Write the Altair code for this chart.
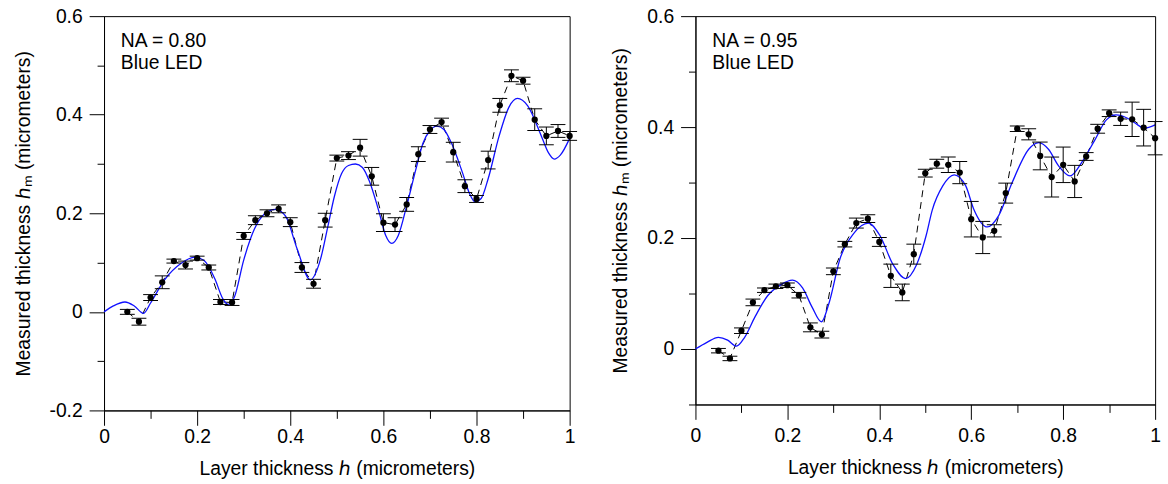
import altair as alt
import pandas as pd

FONT = "Liberation Sans"
FS = 19.5

# Layer thickness h at which each measurement was taken (micrometers)
h_meas = [0.050, 0.075, 0.100, 0.125, 0.150, 0.175, 0.200, 0.225, 0.250, 0.275,
          0.300, 0.325, 0.350, 0.375, 0.400, 0.425, 0.450, 0.475, 0.500, 0.525,
          0.550, 0.575, 0.600, 0.625, 0.650, 0.675, 0.700, 0.725, 0.750, 0.775,
          0.800, 0.825, 0.850, 0.875, 0.900, 0.925, 0.950, 0.975, 1.000]

# NA = 0.80: measured thickness and its uncertainty
hm_080 = [0.000, -0.020, 0.029, 0.060, 0.103, 0.095, 0.109, 0.090, 0.020, 0.019,
          0.154, 0.186, 0.200, 0.209, 0.182, 0.090, 0.057, 0.186, 0.312, 0.317,
          0.333, 0.275, 0.181, 0.177, 0.218, 0.320, 0.370, 0.385, 0.324, 0.255,
          0.229, 0.308, 0.419, 0.479, 0.469, 0.390, 0.357, 0.367, 0.357]
err_080 = [0.005, 0.007, 0.006, 0.013, 0.004, 0.008, 0.004, 0.005, 0.005, 0.006,
           0.007, 0.009, 0.007, 0.008, 0.009, 0.010, 0.009, 0.014, 0.006, 0.008,
           0.017, 0.018, 0.018, 0.014, 0.014, 0.015, 0.008, 0.008, 0.020, 0.013,
           0.007, 0.018, 0.014, 0.012, 0.007, 0.022, 0.018, 0.013, 0.009]

# NA = 0.95: measured thickness and its uncertainty
hm_095 = [-0.003, -0.017, 0.033, 0.084, 0.106, 0.113, 0.115, 0.097, 0.039, 0.026,
          0.140, 0.189, 0.227, 0.235, 0.193, 0.132, 0.102, 0.171, 0.317, 0.334,
          0.332, 0.318, 0.234, 0.201, 0.213, 0.281, 0.397, 0.387, 0.348, 0.310,
          0.332, 0.302, 0.347, 0.397, 0.425, 0.415, 0.414, 0.399, 0.380]
err_095 = [0.004, 0.004, 0.005, 0.006, 0.004, 0.004, 0.004, 0.005, 0.008, 0.006,
           0.006, 0.005, 0.009, 0.007, 0.008, 0.021, 0.015, 0.018, 0.007, 0.008,
           0.014, 0.020, 0.032, 0.029, 0.011, 0.018, 0.005, 0.010, 0.025, 0.036,
           0.032, 0.029, 0.007, 0.008, 0.006, 0.012, 0.031, 0.033, 0.030]

# Simulated response curves (h, h_m)
sim_h_080 = [0.000, 0.020, 0.045, 0.065, 0.085, 0.100, 0.130, 0.165, 0.195, 0.215,
             0.238, 0.255, 0.267, 0.280, 0.300, 0.323, 0.344, 0.368, 0.390, 0.415,
             0.443, 0.465, 0.480, 0.495, 0.510, 0.525, 0.540, 0.555, 0.570, 0.590,
             0.605, 0.618, 0.632, 0.650, 0.670, 0.685, 0.700, 0.715, 0.730, 0.745,
             0.770, 0.785, 0.797, 0.810, 0.825, 0.848, 0.870, 0.888, 0.910, 0.940,
             0.955, 0.967, 0.980, 1.000]
sim_v_080 = [0.000, 0.012, 0.020, 0.012, -0.003, 0.018, 0.065, 0.098, 0.111, 0.104,
             0.067, 0.027, 0.015, 0.030, 0.105, 0.168, 0.198, 0.208, 0.194, 0.127,
             0.065, 0.107, 0.170, 0.235, 0.280, 0.297, 0.300, 0.293, 0.265, 0.205,
             0.155, 0.139, 0.155, 0.215, 0.290, 0.342, 0.368, 0.377, 0.370, 0.345,
             0.282, 0.240, 0.223, 0.230, 0.270, 0.355, 0.416, 0.433, 0.418, 0.355,
             0.322, 0.310, 0.318, 0.352]

sim_h_095 = [0.000, 0.025, 0.050, 0.070, 0.089, 0.107, 0.129, 0.157, 0.186, 0.211,
             0.233, 0.254, 0.274, 0.290, 0.315, 0.344, 0.376, 0.401, 0.430, 0.457,
             0.481, 0.502, 0.515, 0.538, 0.563, 0.588, 0.605, 0.635, 0.660, 0.689,
             0.725, 0.747, 0.768, 0.790, 0.815, 0.840, 0.869, 0.894, 0.915, 0.940,
             0.962, 0.976, 1.000]
sim_v_095 = [0.000, 0.012, 0.021, 0.016, 0.005, 0.021, 0.057, 0.096, 0.116, 0.124,
             0.110, 0.075, 0.049, 0.081, 0.164, 0.208, 0.227, 0.205, 0.152, 0.127,
             0.152, 0.205, 0.250, 0.294, 0.314, 0.294, 0.253, 0.220, 0.241, 0.300,
             0.360, 0.372, 0.360, 0.330, 0.312, 0.336, 0.377, 0.413, 0.422, 0.416,
             0.404, 0.398, 0.404]

x_major = [0, 0.2, 0.4, 0.6, 0.8, 1.0]
x_minor = [0.1, 0.3, 0.5, 0.7, 0.9]

X_TITLE = "Layer thickness \u210e (micrometers)"
Y_TITLE = "Measured thickness \u210e\u2098 (micrometers)"


def panel(values, errors, sim_h, sim_v, y_domain, y_major, y_minor, note,
          width, height, x_label_pad):
    meas = pd.DataFrame({"h": h_meas, "hm": values, "err": errors})
    meas["lo"] = meas["hm"] - meas["err"]
    meas["hi"] = meas["hm"] + meas["err"]
    sim = pd.DataFrame({"h": sim_h, "hm": sim_v})

    xs = alt.Scale(domain=[0, 1], nice=False, zero=False)
    ys = alt.Scale(domain=y_domain, nice=False, zero=False)

    x_axis = alt.Axis(values=x_major, tickSize=15, labelPadding=x_label_pad,
                      title=X_TITLE, titlePadding=14, labelFlush=False,
                      labelExpr="datum.value == 0 ? '0' : datum.value == 1 ? '1' : format(datum.value, '.1f')")
    y_axis = alt.Axis(values=y_major, tickSize=15, labelPadding=7,
                      title=Y_TITLE, titlePadding=16,
                      labelExpr="datum.value == 0 ? '0' : (datum.value < 0 ? '-' : '') + format(abs(datum.value), '.1f')")

    def X(field):
        return alt.X(field, type="quantitative", scale=xs, axis=x_axis)

    def Y(field):
        return alt.Y(field, type="quantitative", scale=ys, axis=y_axis)

    base = alt.Chart(meas)
    dashed = base.mark_line(color="black", strokeWidth=1, strokeDash=[7, 5]).encode(
        x=X("h"), y=Y("hm"))
    curve = alt.Chart(sim).mark_line(color="#1010ff", strokeWidth=1.3,
                                     interpolate="monotone").encode(x=X("h"), y=Y("hm"))
    bars = base.mark_rule(color="black", strokeWidth=1).encode(
        x=X("h"), y=Y("lo"), y2="hi")
    cap_lo = base.mark_tick(color="black", orient="horizontal", size=15,
                            thickness=1, opacity=1).encode(x=X("h"), y=Y("lo"))
    cap_hi = base.mark_tick(color="black", orient="horizontal", size=15,
                            thickness=1, opacity=1).encode(x=X("h"), y=Y("hi"))
    dots = base.mark_circle(color="black", size=40, opacity=1).encode(
        x=X("h"), y=Y("hm"))
    text = alt.Chart(pd.DataFrame({"t": [note]})).mark_text(
        align="left", baseline="alphabetic", font=FONT, fontSize=FS,
        lineBreak="\n", lineHeight=22, color="black").encode(
        x=alt.value(17), y=alt.value(31), text="t:N")

    main = alt.layer(dashed, curve, bars, cap_lo, cap_hi, dots, text)

    # shorter minor ticks between the labelled ones
    minor = alt.Chart(pd.DataFrame({"mx": [0.5], "my": [0.2]})).mark_point(
        opacity=0).encode(
        x=alt.X("mx:Q", scale=xs,
                axis=alt.Axis(values=x_minor, tickSize=8, labels=False,
                              domain=False, title=None, orient="bottom")),
        y=alt.Y("my:Q", scale=ys,
                axis=alt.Axis(values=y_minor, tickSize=7, labels=False,
                              domain=False, title=None, orient="left")))

    return alt.layer(main, minor).resolve_axis(x="independent", y="independent").properties(
        width=width, height=height)


left = panel(hm_080, err_080, sim_h_080, sim_v_080, [-0.2, 0.6],
             [-0.2, 0, 0.2, 0.4, 0.6], [-0.1, 0.1, 0.3, 0.5],
             "NA = 0.80\nBlue LED", 470, 398, 2)
right = panel(hm_095, err_095, sim_h_095, sim_v_095, [-0.1, 0.6],
              [0, 0.2, 0.4, 0.6], [-0.1, 0.1, 0.3, 0.5],
              "NA = 0.95\nBlue LED", 464, 392, 7)

chart = alt.hconcat(left, right, spacing=33).properties(
    padding={"left": 12, "top": 3, "right": 5, "bottom": 5},
    background="white",
).configure_view(
    stroke="black", strokeWidth=1
).configure_axis(
    grid=False, domainColor="black", tickColor="black", labelColor="black",
    titleColor="black", labelFont=FONT, titleFont=FONT, labelFontSize=FS,
    titleFontSize=FS, titleFontWeight="normal", domainWidth=1, tickWidth=1,
)

chart.save("out.html", embed_options={"renderer": "svg", "actions": False})
